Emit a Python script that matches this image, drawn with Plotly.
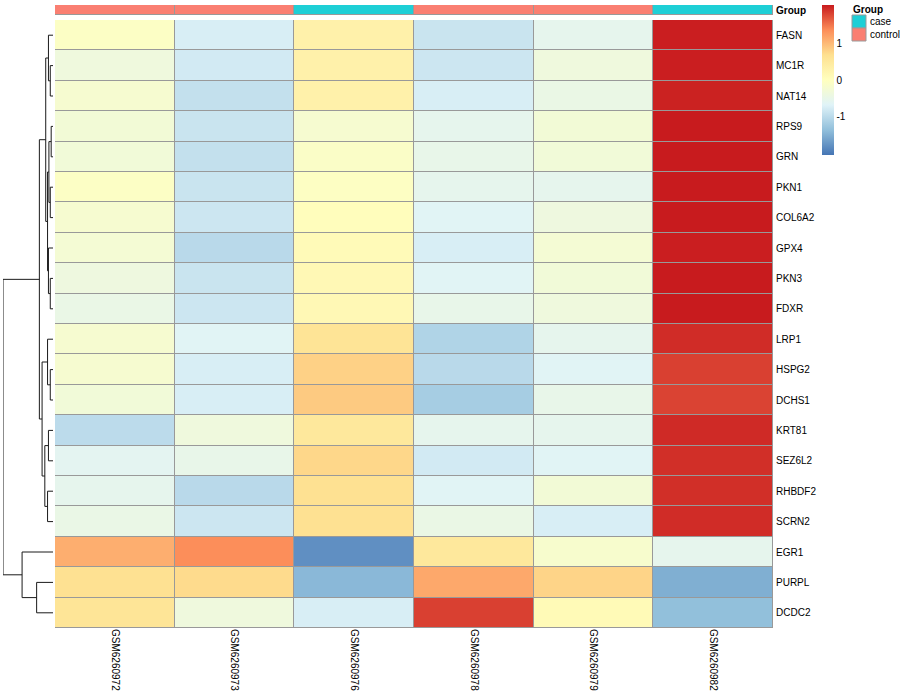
import plotly.graph_objects as go

# ---------------- data ----------------
samples = ["GSM6260972", "GSM6260973", "GSM6260976", "GSM6260978", "GSM6260979", "GSM6260982"]
sample_group = ["control", "control", "case", "control", "control", "case"]
group_levels = ["case", "control"]
group_colors = ["#1ECFD6", "#FA7F72"]

genes = ["FASN", "MC1R", "NAT14", "RPS9", "GRN", "PKN1", "COL6A2", "GPX4", "PKN3", "FDXR",
         "LRP1", "HSPG2", "DCHS1", "KRT81", "SEZ6L2", "RHBDF2", "SCRN2", "EGR1", "PURPL", "DCDC2"]

GSM6260972 = [-0.07, -0.36, -0.20, -0.28, -0.30, -0.07, -0.20, -0.25, -0.38, -0.47,
              -0.20, -0.20, -0.30, -0.99, -0.60, -0.55, -0.47, 1.09, 0.65, 0.58]
GSM6260973 = [-0.75, -0.80, -0.93, -0.88, -0.93, -0.88, -0.85, -1.02, -0.88, -0.85,
              -0.65, -0.75, -0.75, -0.36, -0.50, -1.02, -0.85, 1.35, 0.72, -0.36]
GSM6260976 = [0.30, 0.30, 0.30, -0.20, -0.10, -0.05, 0.05, 0.10, 0.15, 0.15,
              0.60, 0.80, 0.86, 0.50, 0.75, 0.65, 0.65, -1.80, -1.42, -0.75]
GSM6260978 = [-0.88, -0.85, -0.75, -0.55, -0.50, -0.55, -0.65, -0.75, -0.65, -0.50,
              -1.09, -1.02, -1.18, -0.55, -0.80, -0.65, -0.45, 0.50, 1.14, 1.82]
GSM6260979 = [-0.55, -0.36, -0.45, -0.28, -0.30, -0.55, -0.38, -0.25, -0.30, -0.36,
              -0.55, -0.65, -0.50, -0.55, -0.65, -0.28, -0.75, -0.17, 0.78, 0.12]
GSM6260982 = [2.02, 2.02, 2.00, 2.04, 2.04, 2.04, 2.04, 2.02, 2.04, 2.04,
              1.94, 1.82, 1.80, 1.95, 1.92, 1.92, 1.94, -0.55, -1.51, -1.35]

# row dendrogram: (left, right, height); leaves 0..19, new nodes numbered from 20
dendro_merges = [
    (1, 2, 0.3), (0, 20, 0.5), (3, 4, 0.2), (5, 6, 0.3), (22, 23, 0.45),
    (8, 9, 0.3), (7, 25, 0.5), (24, 26, 0.6), (21, 27, 0.8),
    (11, 12, 0.3), (10, 29, 0.6), (13, 14, 0.5), (15, 16, 0.6), (31, 32, 0.9),
    (30, 33, 1.2), (28, 34, 1.5), (18, 19, 1.8), (17, 36, 3.4), (35, 37, 5.5),
]

legend_ticks = [-1, 0, 1]

# ---------------- build ----------------
cols = [GSM6260972, GSM6260973, GSM6260976, GSM6260978, GSM6260979, GSM6260982]
z = [[cols[j][i] for j in range(len(samples))] for i in range(len(genes))]

zmin, zmax = -2.04, 2.04
stops = ["#4575B4", "#91BFDB", "#E0F3F8", "#FFFFBF", "#FEE090", "#FC8D59", "#C81B1E"]
colorscale = [[k / (len(stops) - 1), c] for k, c in enumerate(stops)]

W, H = 900, 700
FONT = "Liberation Sans, Arial, Helvetica, sans-serif"
hm_x = [55 / W, 773 / W]
hm_y = [1 - 628 / H, 1 - 20 / H]
ann_y = [1 - 15 / H, 1 - 5 / H]
den_x = [3 / W, 53 / W]
BORDER = "#999999"

fig = go.Figure()

nrow, ncol = len(genes), len(samples)
xs = list(range(ncol))
ys = list(range(nrow))

fig.add_trace(go.Heatmap(
    z=z, x=xs, y=ys, zmin=zmin, zmax=zmax, colorscale=colorscale,
    xgap=1, ygap=1, xaxis="x", yaxis="y",
    colorbar=dict(x=822 / W, xanchor="left", y=1 - 5 / H, yanchor="top",
                  len=150, lenmode="pixels", thickness=12, thicknessmode="pixels",
                  xpad=0, ypad=0, outlinewidth=0, ticks="", tickvals=legend_ticks,
                  ticktext=[str(t) for t in legend_ticks],
                  tickfont=dict(family=FONT, size=10, color="#000")),
    hovertemplate="%{text}<extra></extra>",
    text=[[f"{genes[i]} / {samples[j]}: {z[i][j]:.2f}" for j in range(ncol)] for i in range(nrow)],
))

# annotation bar
grp_code = [[group_levels.index(g) for g in sample_group]]
n_lev = len(group_levels)
ann_scale = []
for k, c in enumerate(group_colors):
    ann_scale.append([k / n_lev, c])
    ann_scale.append([(k + 1) / n_lev, c])
fig.add_trace(go.Heatmap(
    z=grp_code, x=xs, y=[0], zmin=-0.5, zmax=n_lev - 0.5, colorscale=ann_scale,
    showscale=False, xgap=1, ygap=1, xaxis="x2", yaxis="y2",
    text=[sample_group], hovertemplate="%{text}<extra></extra>",
))

# dendrogram lines
pos = {i: (float(i), 0.0) for i in range(nrow)}
dx, dy = [], []
for k, (a, b, h) in enumerate(dendro_merges):
    ya, ha = pos[a]
    yb, hb = pos[b]
    dx += [ha, h, h, hb, None]
    dy += [ya, ya, yb, yb, None]
    pos[nrow + k] = ((ya + yb) / 2, h)
root_h = max(m[2] for m in dendro_merges)
fig.add_trace(go.Scatter(x=dx, y=dy, mode="lines", xaxis="x3", yaxis="y",
                         line=dict(color="#1a1a1a", width=1), hoverinfo="skip",
                         showlegend=False))

# grey backgrounds -> cell borders
shapes = [
    dict(type="rect", xref="x", yref="y", x0=-0.5, x1=ncol - 0.5, y0=-0.5, y1=nrow - 0.5,
         fillcolor=BORDER, line=dict(color=BORDER, width=1), layer="below"),
    dict(type="rect", xref="x2", yref="y2", x0=-0.5, x1=ncol - 0.5, y0=-0.5, y1=0.5,
         fillcolor=BORDER, line=dict(color=BORDER, width=1), layer="below"),
]

# group legend (manual)
annotations = [dict(text="<b>Group</b>", xref="paper", yref="paper", x=851 / W, y=1 - 10 / H,
                    xanchor="left", yanchor="middle", showarrow=False,
                    font=dict(family=FONT, size=10, color="#000"))]
for k, (lev, col) in enumerate(zip(group_levels, group_colors)):
    top = 15 + 13 * k
    shapes.append(dict(type="rect", xref="paper", yref="paper",
                       x0=852 / W, x1=866 / W, y0=1 - (top + 13) / H, y1=1 - top / H,
                       fillcolor=col, line=dict(color="#9a9a9a", width=1)))
    annotations.append(dict(text=lev, xref="paper", yref="paper", x=868 / W, y=1 - (top + 6.5) / H,
                            xanchor="left", yanchor="middle", showarrow=False,
                            font=dict(family=FONT, size=10, color="#000")))

fig.update_layout(
    width=W, height=H, margin=dict(l=0, r=0, t=0, b=0),
    paper_bgcolor="white", plot_bgcolor="white", showlegend=False,
    font=dict(family=FONT, size=10, color="#000"),
    shapes=shapes, annotations=annotations,
    xaxis=dict(domain=hm_x, anchor="y", range=[-0.5, ncol - 0.5], tickvals=xs, ticktext=samples,
               tickangle=90, showgrid=False, zeroline=False, showline=False, ticks="",
               tickfont=dict(family=FONT, size=10, color="#000")),
    yaxis=dict(domain=hm_y, anchor="x", range=[nrow - 0.5, -0.5], tickvals=ys, ticktext=genes,
               side="right", showgrid=False, zeroline=False, showline=False, ticks="",
               ticklabelstandoff=2,
               tickfont=dict(family=FONT, size=10, color="#000")),
    xaxis2=dict(domain=hm_x, anchor="y2", range=[-0.5, ncol - 0.5], showticklabels=False,
                showgrid=False, zeroline=False, ticks=""),
    yaxis2=dict(domain=ann_y, anchor="x2", range=[-0.5, 0.5], tickvals=[0], ticktext=["<b>Group</b>"],
                side="right", showgrid=False, zeroline=False, ticks="", ticklabelstandoff=2,
                tickfont=dict(family=FONT, size=10, color="#000")),
    xaxis3=dict(domain=den_x, anchor="y", range=[root_h, 0], showticklabels=False,
                showgrid=False, zeroline=False, ticks="", fixedrange=True),
)

fig.write_html("out.html", config={"displayModeBar": False},
               post_script="document.body.style.margin='0px';document.body.style.overflow='hidden';")
